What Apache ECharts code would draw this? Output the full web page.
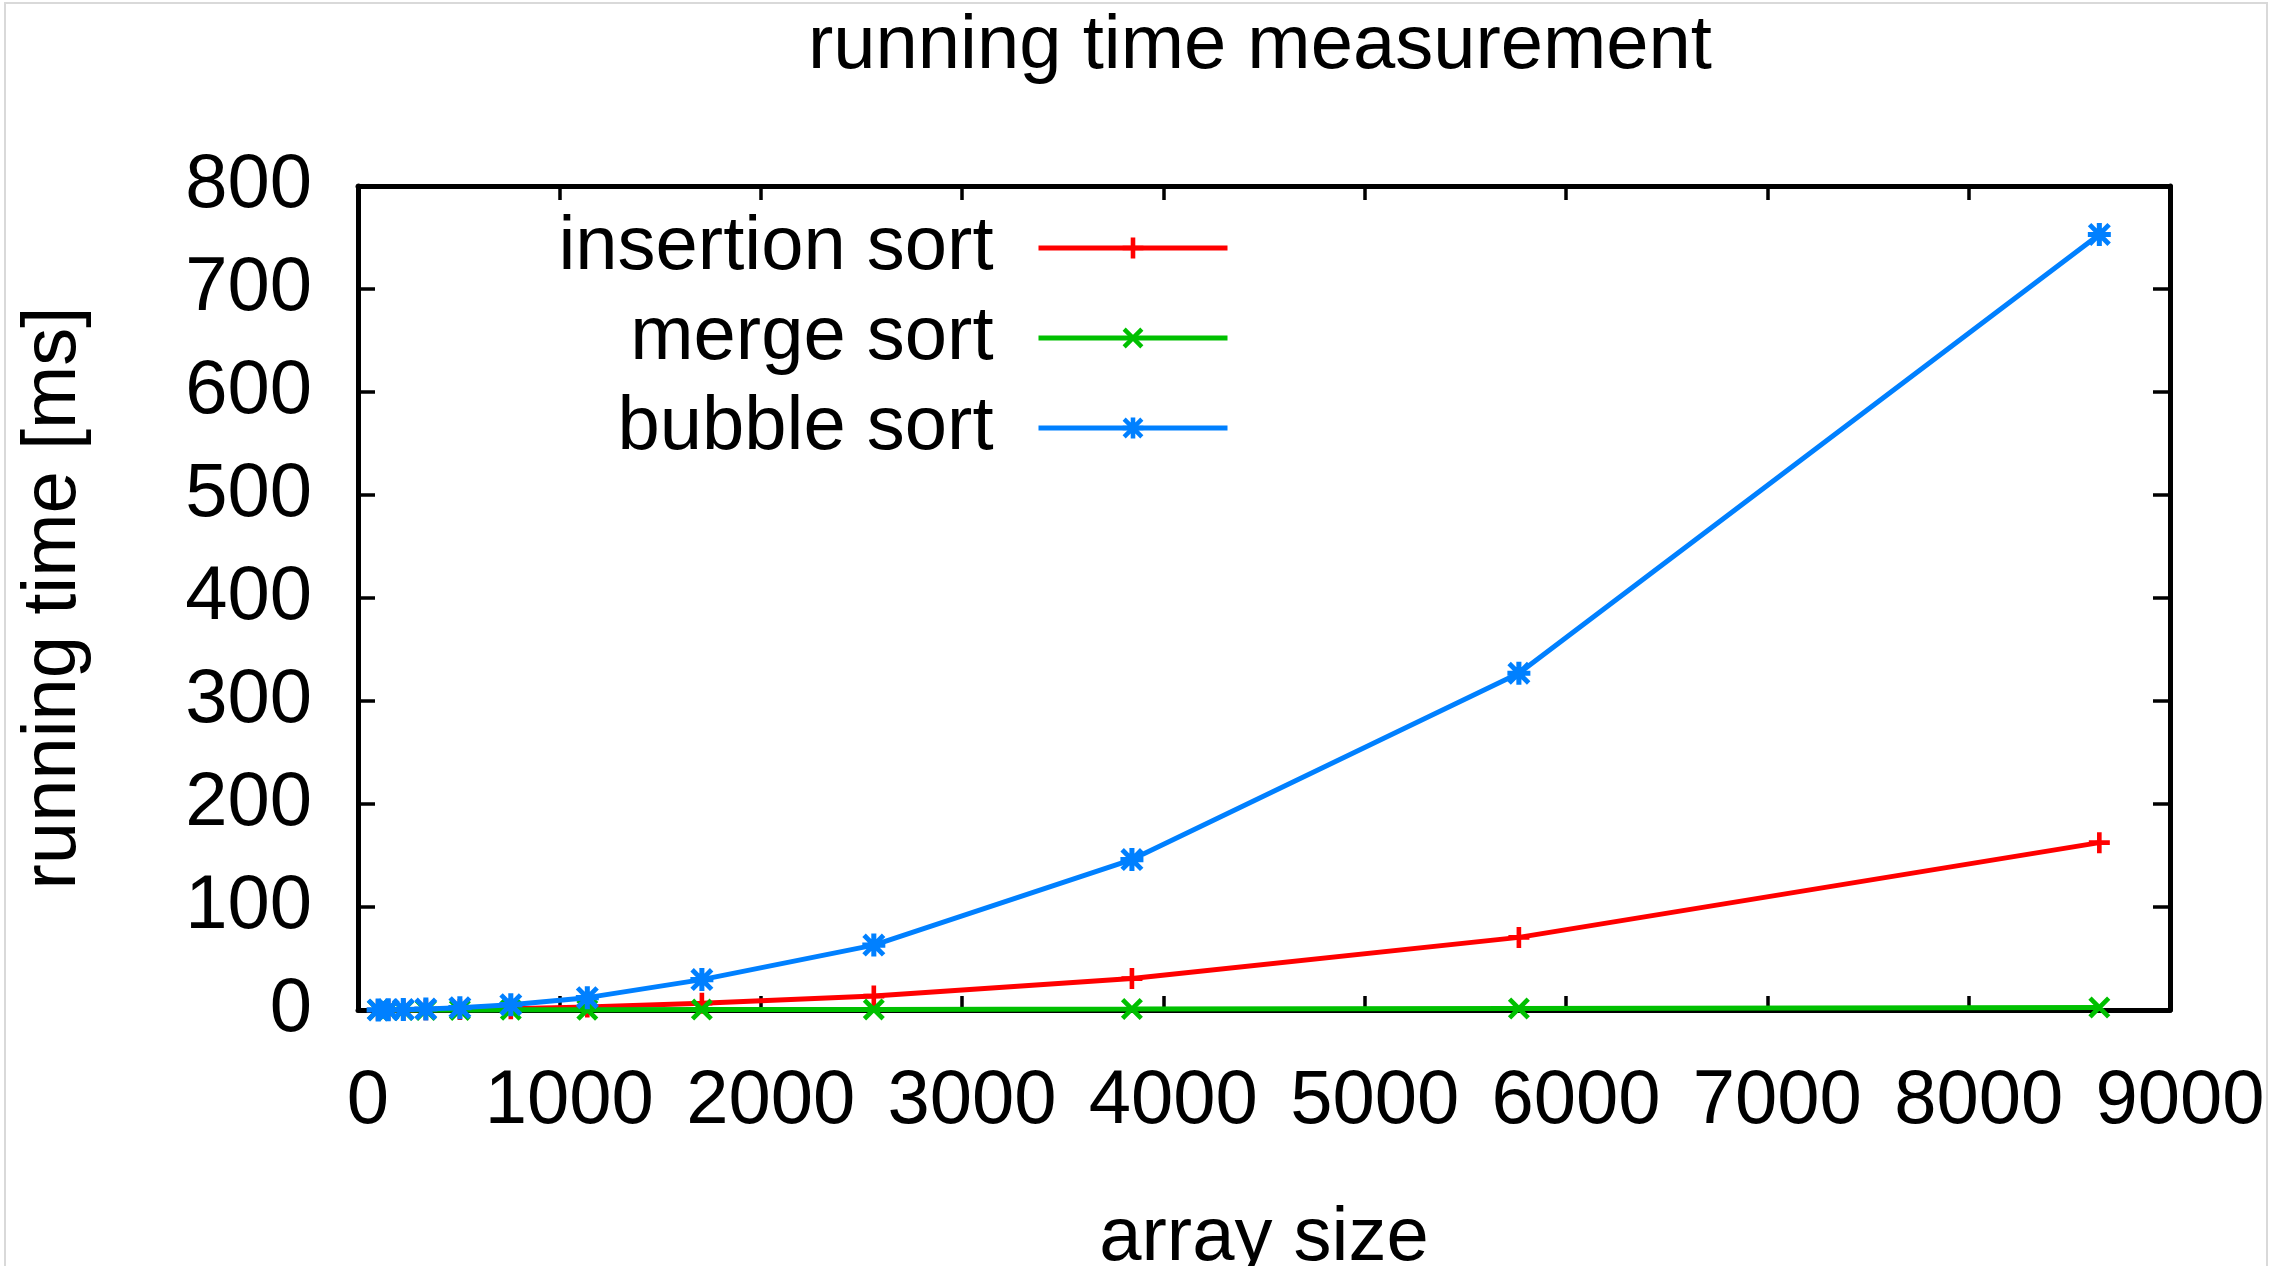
<!DOCTYPE html>
<html>
<head>
<meta charset="utf-8">
<script src="https://cdn.jsdelivr.net/npm/echarts@6/dist/echarts.min.js"></script>
<style>
html, body { margin: 0; padding: 0; background: #fff; }
#chart { width: 2290px; height: 1266px; }
</style>
</head>
<body>
<div id="chart"></div>
<script>
// ---- data ----
const titleText = 'running time measurement';
const xName = 'array size';
const yName = 'running time [ms]';
const arraySizes = [100, 150, 225, 337, 506, 759, 1139, 1708, 2562, 3844, 5766, 8649];
const insertionSort = [0.03, 0.06, 0.12, 0.3, 0.6, 1.3, 3, 6.5, 13.5, 30.5, 70.5, 162.5];
const mergeSort = [0.02, 0.03, 0.05, 0.07, 0.1, 0.17, 0.25, 0.4, 0.6, 0.9, 1.5, 2.4];
const bubbleSort = [0.1, 0.2, 0.5, 1.0, 2.3, 5.2, 12, 29.5, 63, 146, 327, 753];
const seriesNames = ['insertion sort', 'merge sort', 'bubble sort'];
const xMin = 0, xMax = 9000, xStep = 1000;
const yMin = 0, yMax = 800, yStep = 100;

// ---- styling ----
const FONT = 'Liberation Sans';
const FS = 76;
const colors = ['#ff0000', '#00c000', '#0080ff'];
const plusPath = 'path://M7.8,0 L12.2,0 L12.2,7.8 L20,7.8 L20,12.2 L12.2,12.2 L12.2,20 L7.8,20 L7.8,12.2 L0,12.2 L0,7.8 L7.8,7.8 Z';
const crossPath = 'path://M0,3 L3,0 L20,17 L17,20 Z M17,0 L20,3 L3,20 L0,17 Z';
const starPath = 'path://M7.8,0 L12.2,0 L12.2,7.8 L20,7.8 L20,12.2 L12.2,12.2 L12.2,20 L7.8,20 L7.8,12.2 L0,12.2 L0,7.8 L7.8,7.8 Z M0,3 L3,0 L20,17 L17,20 Z M17,0 L20,3 L3,20 L0,17 Z';
const symbols = [plusPath, crossPath, starPath];
const symbolSizes = [21, 22, 23];
const values = [insertionSort, mergeSort, bubbleSort];

function pairs(xs, ys) { return xs.map((x, i) => [x, ys[i]]); }
function axisLine() { return { show: true, onZero: false, lineStyle: { color: '#000', width: 5 } }; }
function axisTick(len) { return { show: true, inside: true, length: len, lineStyle: { color: '#000', width: 3.5 } }; }
const plain = v => String(v);

const chart = echarts.init(document.getElementById('chart'), null, { renderer: 'canvas' });
chart.setOption({
  animation: false,
  backgroundColor: '#fff',
  textStyle: { fontFamily: FONT },
  title: {
    text: titleText,
    left: 808, top: 9, padding: 0,
    textStyle: { fontFamily: FONT, fontSize: FS, fontWeight: 'normal', color: '#000' }
  },
  graphic: [{
    type: 'rect', silent: true, z: -10,
    shape: { x: 5, y: 3, width: 2262, height: 1300 },
    style: { fill: 'none', stroke: '#d9d9d9', lineWidth: 2 }
  }],
  legend: {
    orient: 'vertical',
    align: 'right',
    right: 1060,
    top: 210,
    padding: 0,
    itemGap: 14,
    itemWidth: 189,
    itemHeight: 26,
    data: seriesNames,
    selectedMode: false,
    lineStyle: { width: 5 },
    textStyle: { fontFamily: FONT, fontSize: FS, color: '#000', padding: [0, 40, 0, 0] }
  },
  grid: { left: 358, right: 120, top: 186, bottom: 256, containLabel: false, outerBoundsMode: 'none' },
  xAxis: [{
    type: 'value', position: 'bottom', min: xMin, max: xMax, interval: xStep,
    name: xName, nameLocation: 'middle', nameGap: 191,
    nameTextStyle: { fontFamily: FONT, fontSize: FS, color: '#000' },
    axisLine: axisLine(),
    axisTick: axisTick(14),
    splitLine: { show: false },
    axisLabel: { fontFamily: FONT, fontSize: FS, color: '#000', margin: 54, padding: [0, 0, 0, 20], formatter: plain }
  }, {
    type: 'value', position: 'top', min: xMin, max: xMax, interval: xStep,
    axisLine: axisLine(),
    axisTick: axisTick(14),
    splitLine: { show: false },
    axisLabel: { show: false }
  }],
  yAxis: [{
    type: 'value', position: 'left', min: yMin, max: yMax, interval: yStep,
    name: yName, nameLocation: 'middle', nameGap: 266, nameRotate: 90,
    nameTextStyle: { fontFamily: FONT, fontSize: FS, color: '#000' },
    axisLine: axisLine(),
    axisTick: axisTick(17),
    splitLine: { show: false },
    axisLabel: { fontFamily: FONT, fontSize: FS, color: '#000', margin: 46, padding: [0, 0, 10, 0], formatter: plain }
  }, {
    type: 'value', position: 'right', min: yMin, max: yMax, interval: yStep,
    axisLine: axisLine(),
    axisTick: axisTick(17),
    splitLine: { show: false },
    axisLabel: { show: false }
  }],
  series: seriesNames.map((name, i) => ({
    name: name,
    type: 'line',
    xAxisIndex: 0, yAxisIndex: 0,
    data: pairs(arraySizes, values[i]),
    symbol: symbols[i],
    symbolSize: symbolSizes[i],
    showSymbol: true,
    clip: false,
    color: colors[i],
    itemStyle: { color: colors[i], borderWidth: 0 },
    lineStyle: { color: colors[i], width: 5 },
    emphasis: { disabled: true },
    z: 3 + i
  }))
});
</script>
</body>
</html>
